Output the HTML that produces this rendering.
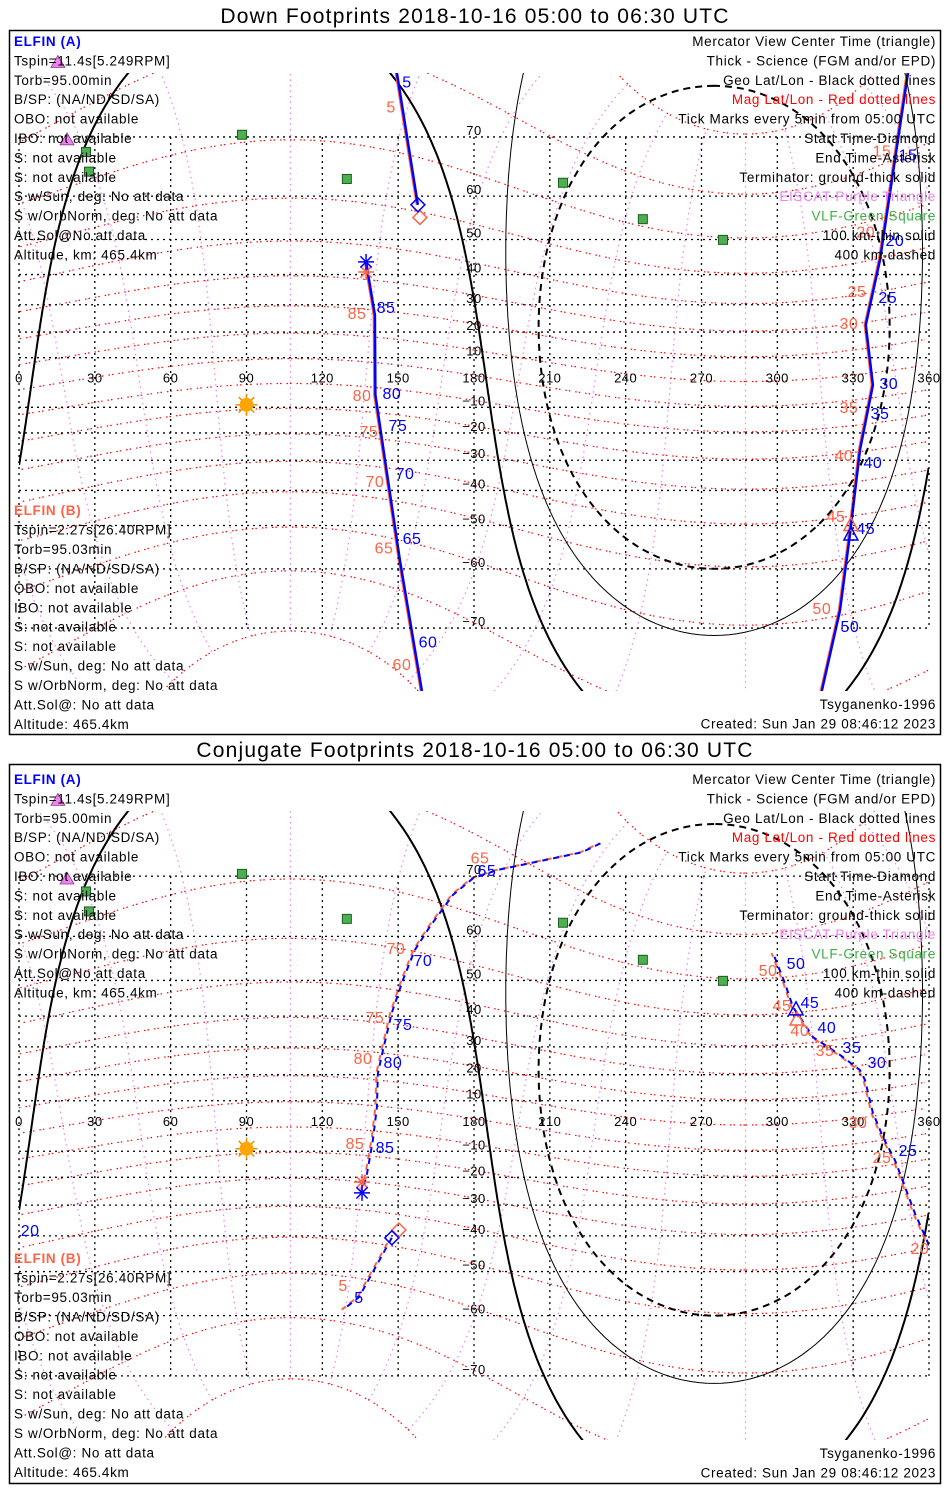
<!DOCTYPE html>
<html><head><meta charset="utf-8"><title>ELFIN Footprints</title>
<style>
html,body{margin:0;padding:0;background:#fff;overflow:hidden;width:950px;height:1500px;}
svg{display:block;}
text{font-family:"Liberation Sans",sans-serif;}
</style></head>
<body>
<svg id="chart" xmlns="http://www.w3.org/2000/svg" width="950" height="1500" viewBox="0 0 950 1500">
<rect x="0" y="0" width="950" height="1500" fill="#fff"/>
</svg>
<script>
// ---------- data (lon deg E, lat deg) ----------
const lonTicks=[0,30,60,90,120,150,180,210,240,270,300,330,360];
const latTicks=[70,60,50,40,30,20,10,-10,-20,-30,-40,-50,-60,-70];
const magLatLevels=[-80,-70,-60,-50,-40,-30,-20,-10,0,10,20,30,40,50,60,70,80];
const magLonLevels=[0,30,60,90,120,150,180,210,240,270,300,330];
const magPole=[80.4,287.4];
const sunPos=[-9,90];
const terminatorCenter=[-8,95];
const terminatorDist=[90,101,112];
const vlfLon=[88.2,26.5,27.7,129.7,215.2,246.8,278.5];
const vlfLat=[70.3,67.8,64.6,63.3,62.6,55.0,49.9];
const eiscatLon=[15.4,19.0];
const eiscatLat=[78.1,69.6];
// Down footprints (panel 1) track segments
const downLon=[[157.8,149.5],[351.7,346.5,340.6,335.0,337.8,332.7,328.7,324.8,317.6],[159.4,150.7,144.8,141.0,140.8,137.3]];
const downLat=[[58.2,77.2],[77.2,66.5,44.4,22.7,-1.0,-26.3,-52.4,-67.4,-77.1],[-77.1,-58.2,-29.9,-5.0,26.3,43.8]];
const downBlueLabels=['5','15','20','25','30','35','40','45','50','60','65','70','75','80','85'];
const downBlueLon=[153.5,351.7,346.5,343.7,344.1,340.6,337.8,335.0,328.7,161.8,155.5,152.7,149.9,147.5,145.2];
const downBlueLat=[76.4,67.4,49.9,32.7,-0.2,-12.3,-30.6,-50.6,-69.7,-71.8,-53.1,-34.4,-17.0,-4.2,29.2];
const downRedLabels=['5','15','20','25','30','35','40','45','50','60','65','70','75','80','85'];
const downRedLon=[147.2,341.4,335.0,331.5,328.3,328.3,326.3,323.2,317.6,151.5,144.4,140.8,138.4,135.7,133.7];
const downRedLat=[73.8,68.0,52.0,34.7,23.4,-9.9,-28.2,-47.5,-67.0,-74.4,-55.4,-37.0,-19.3,-5.0,27.1];
const downStart=[[157.8,58.2],[158.6,55.4]];
const downEnd=[[137.3,43.8],[137.3,40.8]];
const downCenter=[[329.1,-52.4],[329.1,-50.0]];
// Conjugate footprints (panel 2)
const conjLon=[[147.5,134.5,128.2],[360,354.4,346.5,341.8,337.8,334.7,332.7,324.8,314.1,309.7,306.2,303.0,298.3],[230,222.7,189.1,179.6,171.7,162.6,156.6,151.9,147.5,144.0,142.0,141.6,140.0,137.7,135.7]];
const conjLat=[[-40.6,-56.1,-58.8],[-42.8,-32.7,-13.4,-4.4,5.2,18.0,21.7,27.2,33.3,38.8,42.7,49.3,56.5],[74.0,73.0,70.8,69.7,67.3,61.9,57.2,50.2,41.0,28.9,20.6,7.5,-5.6,-18.4,-25.7]];
const conjBlueLabels=['5','20','25','30','35','40','45','50','65','70','75','80','85'];
const conjBlueLon=[134.5,4.4,351.7,339.4,329.5,319.6,312.9,307.4,185.1,159.8,151.9,147.9,144.8];
const conjBlueLat=[-56.1,-38.2,-9.5,24.7,30.0,36.6,44.2,54.3,70.8,55.0,37.6,24.7,-8.3];
const conjRedLabels=['5','20','25','30','35','40','45','50','65','70','75','80','85'];
const conjRedLon=[128.2,356.4,341.4,331.9,318.8,308.9,301.8,296.3,182.4,149.1,140.8,136.1,132.9];
const conjRedLat=[-53.3,-43.6,-12.2,1.6,28.9,35.7,43.3,52.6,72.4,57.6,39.8,26.1,-6.8];
const conjStart=[[147.5,-40.6],[150.3,-38.2]];
const conjEnd=[[135.7,-25.7],[135.7,-21.8]];
const conjCenter=[[307.4,41.9],[307.8,38.8]];

const infoA=['Tspin=11.4s[5.249RPM]','Torb=95.00min','B/SP: (NA/ND/SD/SA)','OBO: not available','IBO: not available','S: not available','S: not available','S w/Sun, deg: No att data','S w/OrbNorm, deg: No att data','Att.Sol@No att data','Altitude, km: 465.4km'];
const infoB=['Tspin=2.27s[26.40RPM]','Torb=95.03min','B/SP: (NA/ND/SD/SA)','OBO: not available','IBO: not available','S: not available','S: not available','S w/Sun, deg: No att data','S w/OrbNorm, deg: No att data','Att.Sol@: No att data','Altitude: 465.4km'];
const legendText=['Mercator View Center Time (triangle)','Thick - Science (FGM and/or EPD)','Geo Lat/Lon - Black dotted lines','Mag Lat/Lon - Red dotted lines','Tick Marks every 5min from 05:00 UTC','Start Time-Diamond','End Time-Asterisk','Terminator: ground-thick solid','EISCAT-Purple Triangle','VLF-Green Square','100 km-thin solid','400 km-dashed'];
const legendColor=['#000','#000','#000','#ff0000','#000','#000','#000','#000','#ee82ee','#3cb043','#000','#000'];

const panels=[
 {y0:382.5,k:141.5,top:73,bot:691,ft:30,fb:734,tt:23,aY:41,bY:510,brY:704,title:'Down Footprints 2018-10-16 05:00 to 06:30 UTC',conj:false},
 {y0:1126,k:144,top:811,bot:1440,ft:764,fb:1483,tt:757,aY:779,bY:1258,brY:1453,title:'Conjugate Footprints 2018-10-16 05:00 to 06:30 UTC',conj:true}
];

// ---------- helpers ----------
const NS='http://www.w3.org/2000/svg';
const svg=document.getElementById('chart');
const D=Math.PI/180;
const LS='0.65px';
function X(lon){return 19+lon*910/360;}
function Y(lat,p){const l=Math.max(-85,Math.min(85,lat));return p.y0-p.k*Math.log(Math.tan(Math.PI/4+l*D/2));}
function mk(tag,attrs,parent){const e=document.createElementNS(NS,tag);for(const a in attrs)e.setAttribute(a,attrs[a]);(parent||svg).appendChild(e);return e;}
function txt(s,x,y,size,color,anchor,parent,weight,ls){const t=mk('text',{x:x,y:y,'font-size':size,fill:color,'text-anchor':anchor||'start','font-weight':weight||'normal','letter-spacing':ls||'0'},parent);t.textContent=s;return t;}
function pathFrom(lons,lats,p){let d='';let prev=null;for(let i=0;i<lons.length;i++){const lo=lons[i],la=lats[i];const cmd=(prev===null||Math.abs(lo-prev)>180)?'M':'L';d+=cmd+X(lo).toFixed(1)+','+Y(la,p).toFixed(1)+' ';prev=lo;}return d;}
function magToGeo(mlat,mlon){const th=(90-magPole[0])*D;const x=Math.cos(mlat*D)*Math.cos(mlon*D),y=Math.cos(mlat*D)*Math.sin(mlon*D),z=Math.sin(mlat*D);
 const x1=x*Math.cos(th)+z*Math.sin(th),z1=-x*Math.sin(th)+z*Math.cos(th);const ph=magPole[1]*D;
 const x2=x1*Math.cos(ph)-y*Math.sin(ph),y2=x1*Math.sin(ph)+y*Math.cos(ph);
 let lon=Math.atan2(y2,x2)/D;if(lon<0)lon+=360;return [Math.asin(Math.max(-1,Math.min(1,z1)))/D,lon];}
function dest(lat1,lon1,dist,brg){const f=lat1*D,d=dist*D,a=brg*D;const la=Math.asin(Math.sin(f)*Math.cos(d)+Math.cos(f)*Math.sin(d)*Math.cos(a));
 let lo=lon1+Math.atan2(Math.sin(a)*Math.sin(d)*Math.cos(f),Math.cos(d)-Math.sin(f)*Math.sin(la))/D;lo=((lo%360)+360)%360;return [la/D,lo];}

panels.forEach((p,pi)=>{
 const g=mk('g',{});
 
 
 const title=txt(p.title,475,p.tt,21,'#000','middle',g,'normal','1.2px');
 
 
 const frame=mk('rect',{x:9.5,y:p.ft+0.5,width:931,height:p.fb-p.ft,fill:'none',stroke:'#000','stroke-width':1.5},g);
 
 
 const cid='clip'+pi;
 const defs=mk('defs',{},g);
 const cp=mk('clipPath',{id:cid},defs);
 mk('rect',{x:19,y:p.top,width:910,height:p.bot-p.top},cp);
 const map=mk('g',{'clip-path':'url(#'+cid+')'},g);
 
 
 magLonLevels.forEach(ml=>{const lo=[],la=[];for(let m=-80;m<=80;m+=2){const r=magToGeo(m,ml);la.push(r[0]);lo.push(r[1]);}
  const e=mk('path',{d:pathFrom(lo,la,p),fill:'none',stroke:'#ee82ee','stroke-width':1.2,'stroke-dasharray':'1.5,4'},map);
  
  });
 magLatLevels.forEach(ml=>{const lo=[],la=[];for(let m=0;m<=360;m+=2){const r=magToGeo(ml,m);la.push(r[0]);lo.push(r[1]);}
  const e=mk('path',{d:pathFrom(lo,la,p),fill:'none',stroke:'#ff0000','stroke-width':1.2,'stroke-dasharray':'1.5,5,1.5,2'},map);
  
  });
 latTicks.forEach(la=>{const y=Y(la,p);const e=mk('line',{x1:19,x2:929,y1:y,y2:y,stroke:'#000','stroke-width':1.3,'stroke-dasharray':'2,4'},g);
  
  
  const t=txt(String(la).replace('-','\u2212'),474,y-2,13,'#000','middle',g,'normal','0.5px');
  
  });
 lonTicks.forEach(lo=>{const x=X(lo);const e=mk('line',{x1:x,x2:x,y1:Y(70,p),y2:Y(-70,p),stroke:'#000','stroke-width':1.3,'stroke-dasharray':'2,4'},g);
  
  
  const t=txt(String(lo),x,p.y0,13,'#000','middle',g,'normal','0.5px');
  
  });
 terminatorDist.forEach((dd,i)=>{const lo=[],la=[];for(let a=0;a<=360;a+=1){const r=dest(terminatorCenter[0],terminatorCenter[1],dd,a);la.push(r[0]);lo.push(r[1]);}
  const attrs={d:pathFrom(lo,la,p),fill:'none',stroke:'#000','stroke-width':i==0?2:1};
  if(i==2){attrs['stroke-dasharray']='7,5';attrs['stroke-width']=2;}
  const e=mk('path',attrs,map);
  
  });
 vlfLon.forEach((lo,i)=>{const e=mk('rect',{x:X(lo)-4.5,y:Y(vlfLat[i],p)-4.5,width:9,height:9,fill:'#4caf50',stroke:'#1b5e20','stroke-width':1},g);
  
  });
 eiscatLon.forEach((lo,i)=>{const x=X(lo),y=Y(eiscatLat[i],p);const e=mk('polygon',{points:`${x-7},${y+5} ${x+7},${y+5} ${x},${y-7}`,fill:'#ee82ee',stroke:'#8b3a8b','stroke-width':0.8},g);
  
  });
 const sx=X(sunPos[1]),sy=Y(sunPos[0],p);
 const sun=mk('g',{},g);
 
 
 for(let a=0;a<360;a+=45){mk('line',{x1:sx,y1:sy,x2:sx+11*Math.cos(a*D),y2:sy+11*Math.sin(a*D),stroke:'#e69500','stroke-width':1.5},sun);}
 mk('circle',{cx:sx,cy:sy,r:7,fill:'#ffa500'},sun);
 const TL=p.conj?conjLon:downLon, TA=p.conj?conjLat:downLat;
 TL.forEach((seg,si)=>{
  const r=mk('path',{d:pathFrom(seg,TA[si],p),fill:'none',stroke:'#ff6347','stroke-width':p.conj?2:1.5,transform:'translate(-1.5,0)','stroke-dasharray':p.conj?'6,5':'none','stroke-dashoffset':p.conj?5:0},map);
  
  
  const b=mk('path',{d:pathFrom(seg,TA[si],p),fill:'none',stroke:'#0000ff','stroke-width':p.conj?2:2.5,'stroke-dasharray':p.conj?'6,5':'none'},map);
  
  });
 const rl=p.conj?conjRedLabels:downRedLabels, rlo=p.conj?conjRedLon:downRedLon, rla=p.conj?conjRedLat:downRedLat;
 rl.forEach((s,i)=>{const t=txt(s,X(rlo[i]),Y(rla[i],p)+6,16,'#ff6347','middle',g,'normal','0.5px');
  
  });
 const bl=p.conj?conjBlueLabels:downBlueLabels, blo=p.conj?conjBlueLon:downBlueLon, bla=p.conj?conjBlueLat:downBlueLat;
 bl.forEach((s,i)=>{const t=txt(s,X(blo[i]),Y(bla[i],p)+6,16,'#0000ff','middle',g,'normal','0.5px');
  
  });
 const st=p.conj?conjStart:downStart, en=p.conj?conjEnd:downEnd, ce=p.conj?conjCenter:downCenter;
 const cols=['#0000ff','#ff6347'];
 [1,0].forEach(j=>{
  const c=cols[j];
  let x=X(st[j][0]),y=Y(st[j][1],p);
  const dm=mk('polygon',{points:`${x},${y-7} ${x+7},${y} ${x},${y+7} ${x-7},${y}`,fill:'none',stroke:c,'stroke-width':1.5},g);
  
  
  x=X(en[j][0]);y=Y(en[j][1],p);
  const as=mk('g',{stroke:c,'stroke-width':1.5},g);
  
  
  for(let a=0;a<180;a+=45){mk('line',{x1:x-8*Math.cos(a*D),y1:y-8*Math.sin(a*D),x2:x+8*Math.cos(a*D),y2:y+8*Math.sin(a*D)},as);}
  x=X(ce[j][0]);y=Y(ce[j][1],p);
  const tr=mk('polygon',{points:`${x-7},${y+5} ${x+7},${y+5} ${x},${y-8}`,fill:'none',stroke:c,'stroke-width':1.5},g);
  
  });
 const ha=txt('ELFIN (A)',14,p.aY+5,13.5,'#0000ff','start',g,'bold',LS);
 
 
 infoA.forEach((s,i)=>{const t=txt(s,14,p.aY+5+19.4*(i+1),13.5,'#000','start',g,'normal',LS);
  
  });
 const hb=txt('ELFIN (B)',14,p.bY+5,13.5,'#ff6347','start',g,'bold',LS);
 
 
 infoB.forEach((s,i)=>{const t=txt(s,14,p.bY+5+19.45*(i+1),13.5,'#000','start',g,'normal',LS);
  
  });
 legendText.forEach((s,i)=>{const t=txt(s,936,p.aY+5+19.4*i,13.5,legendColor[i],'end',g,'normal',LS);
  
  });
 const ts=txt('Tsyganenko-1996',936,p.brY+5,13.5,'#000','end',g,'normal',LS);
 
 
 const cr=txt('Created: Sun Jan 29 08:46:12 2023',936,p.brY+24.5,13.5,'#000','end',g,'normal',LS);
 
 
});
</script>
</body></html>
